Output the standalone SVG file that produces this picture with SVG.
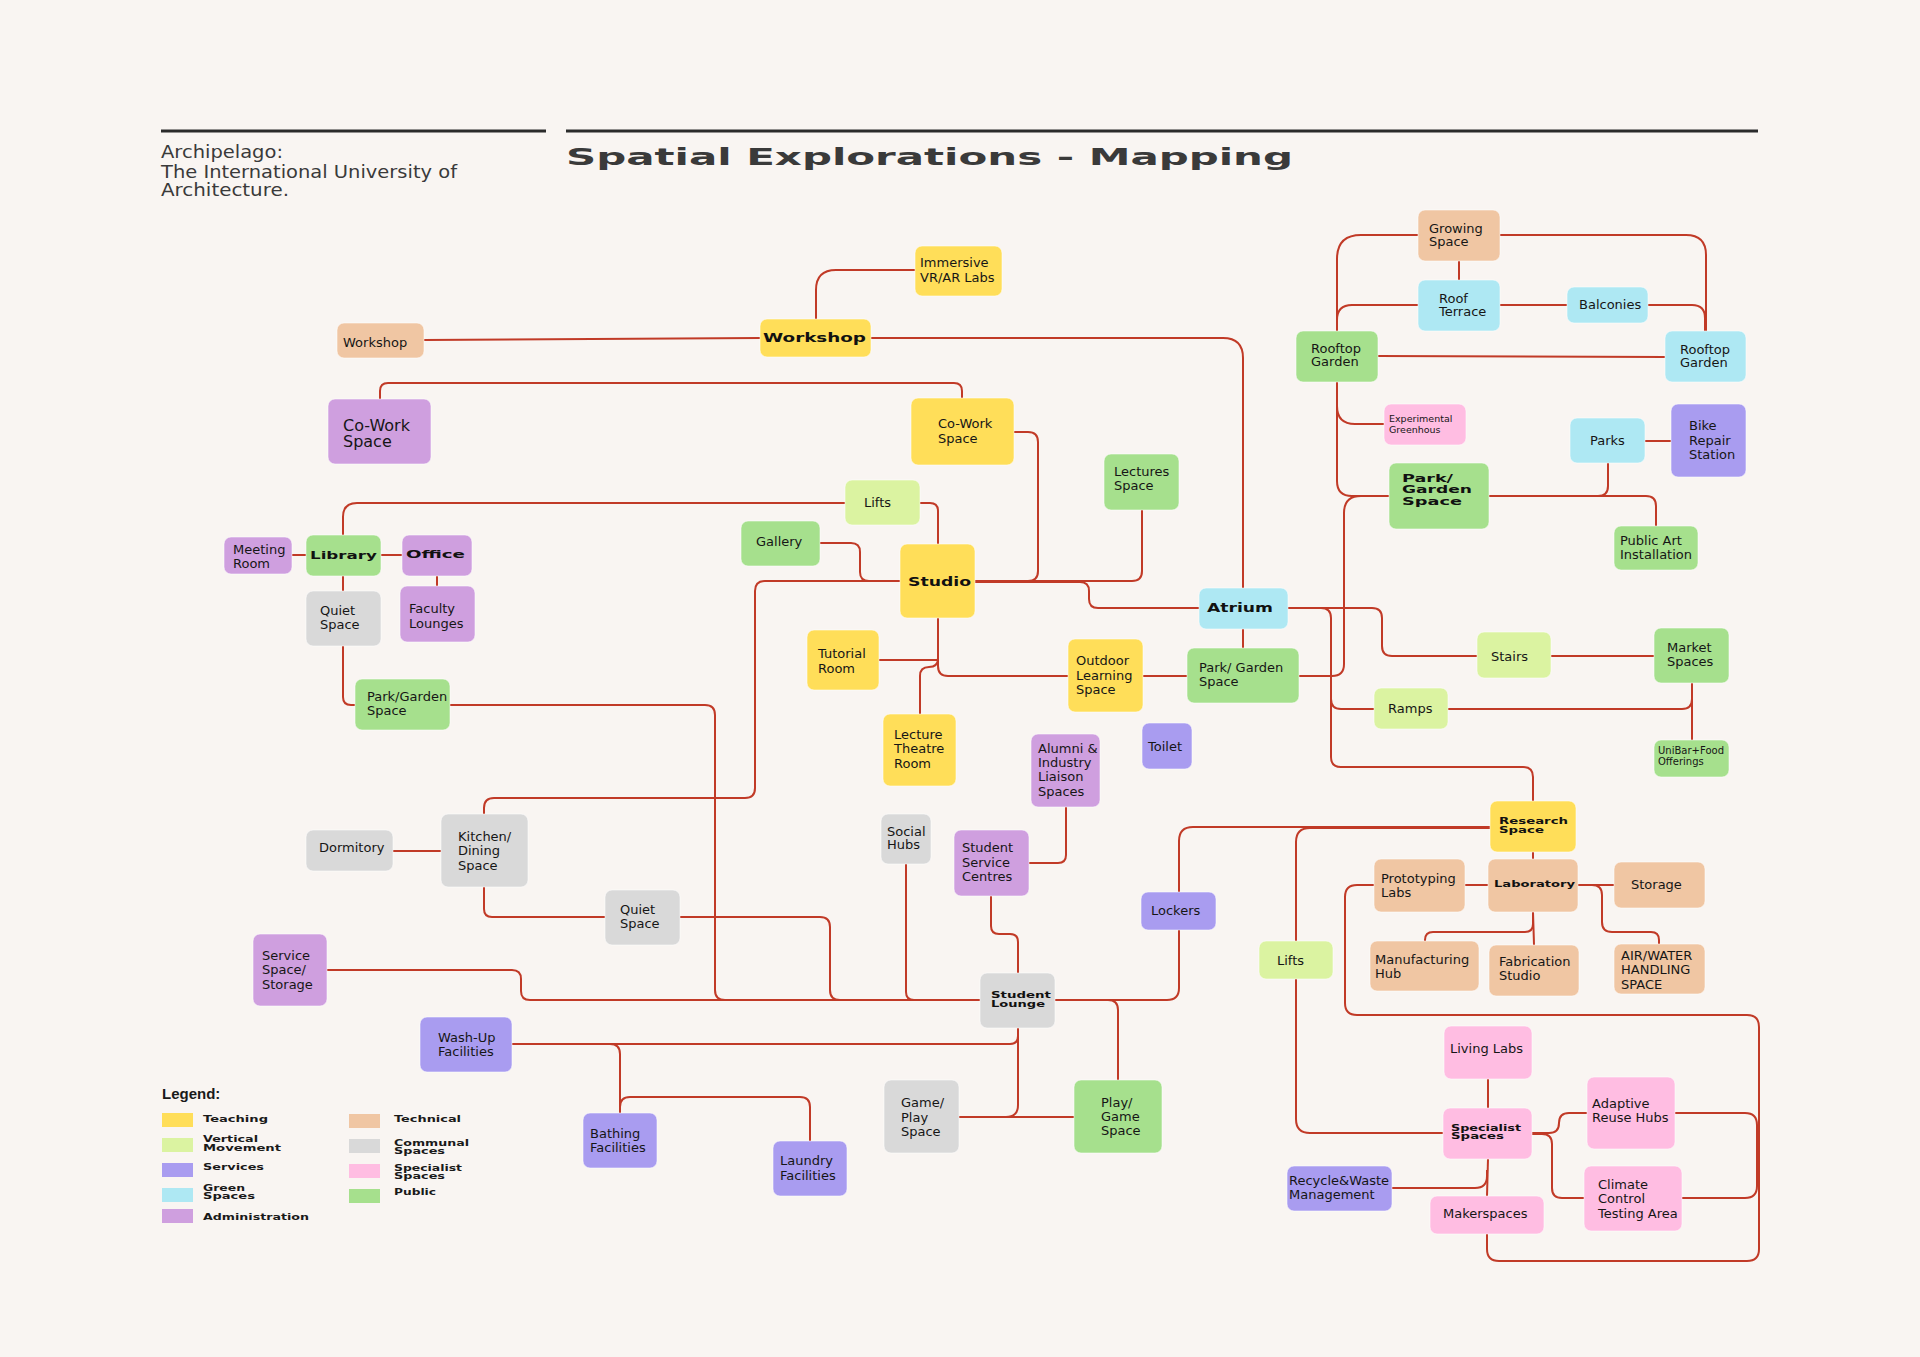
<svg xmlns="http://www.w3.org/2000/svg" width="1920" height="1357" viewBox="0 0 1920 1357">
<style>
.bg{fill:#F9F5F2}
.c path{fill:none;stroke:#C13A27;stroke-width:2}
rect.n{stroke:#ffffff;stroke-opacity:0.55;stroke-width:1}
.t{font-family:"DejaVu Sans",sans-serif;font-size:13px;fill:#161616}
.b{font-family:"DejaVu Sans",sans-serif;font-weight:bold;fill:#111}
.lg{font-family:"DejaVu Sans",sans-serif;font-weight:bold;font-size:16px;fill:#1a1a1a}
.teach{fill:#FFDE59}.vert{fill:#DBF3A1}.serv{fill:#A99CF0}.green{fill:#AEE8F3}.admin{fill:#CF9FDF}
.tech{fill:#F0C6A3}.comm{fill:#D9D9D9}.spec{fill:#FFBDE2}.pub{fill:#A6E08D}
</style>
<rect class="bg" x="0" y="0" width="1920" height="1357"/>

<g id="header">
<rect x="161" y="129.5" width="385" height="3" fill="#2b2b2b"/>
<rect x="566" y="129.5" width="1192" height="3" fill="#2b2b2b"/>
<text x="161" y="158" font-family="DejaVu Sans,sans-serif" font-size="18" fill="#3a3a3a" textLength="122" lengthAdjust="spacingAndGlyphs">Archipelago:</text>
<text x="161" y="178" font-family="DejaVu Sans,sans-serif" font-size="18" fill="#3a3a3a" textLength="296" lengthAdjust="spacingAndGlyphs">The International University of</text>
<text x="161" y="196" font-family="DejaVu Sans,sans-serif" font-size="18" fill="#3a3a3a" textLength="128" lengthAdjust="spacingAndGlyphs">Architecture.</text>
<text x="566" y="165" font-family="DejaVu Sans,sans-serif" font-weight="bold" font-size="23" fill="#3a3a3a" textLength="727" lengthAdjust="spacingAndGlyphs">Spatial Explorations - Mapping</text>
</g>

<g id="connectors" class="c">
<path d="M424,340 L760,338"/>
<path d="M816,319 V290 Q816,270 836,270 H915"/>
<path d="M871,338 H1223 Q1243,338 1243,358 V588"/>
<path d="M380,399 V391 Q380,383 388,383 H954 Q962,383 962,391 V398"/>
<path d="M1014,432 H1028 Q1038,432 1038,442 V571 Q1038,581 1028,581 H975"/>
<path d="M1142,510 V571 Q1142,581 1132,581 H975"/>
<path d="M975,582 H1080 Q1089,582 1089,591 V599 Q1089,608 1098,608 H1199"/>
<path d="M845,503 H357 Q343,503 343,517 V535"/>
<path d="M920,503 H930 Q938,503 938,511 V544"/>
<path d="M820,543 H851 Q860,543 860,552 V572 Q860,581 869,581 H900"/>
<path d="M900,581 H765 Q755,581 755,591 V788 Q755,798 745,798 H494 Q484,798 484,808 V814"/>
<path d="M292,555 H306"/>
<path d="M381,555 H402"/>
<path d="M437,576 V586"/>
<path d="M343,576 V591"/>
<path d="M343,646 V697 Q343,705 351,705 H355"/>
<path d="M450,705 H705 Q715,705 715,715 V990 Q715,1000 725,1000 H980"/>
<path d="M327,970 H512 Q521,970 521,979 V991 Q521,1000 530,1000 H980"/>
<path d="M484,887 V909 Q484,917 492,917 H605"/>
<path d="M680,917 H820 Q830,917 830,927 V990 Q830,1000 840,1000 H980"/>
<path d="M906,864 V992 Q906,1000 914,1000 H980"/>
<path d="M991,896 V926 Q991,934 999,934 H1010 Q1018,934 1018,942 V973"/>
<path d="M1066,807 V855 Q1066,863 1058,863 H1029"/>
<path d="M1055,1000 H1167 Q1179,1000 1179,988 V930"/>
<path d="M1179,892 V841 Q1179,827 1193,827 H1490"/>
<path d="M1296,941 V842 Q1296,828 1310,828 H1490"/>
<path d="M1296,979 V1119 Q1296,1133 1310,1133 H1443"/>
<path d="M1055,1000 H1108 Q1118,1000 1118,1010 V1080"/>
<path d="M1018,1028 V1105 Q1018,1117 1006,1117 H959"/>
<path d="M959,1117 H1074"/>
<path d="M1018,1028 V1036 Q1018,1044 1010,1044 H512"/>
<path d="M512,1044 H610 Q620,1044 620,1054 V1113"/>
<path d="M620,1113 V1107 Q620,1097 630,1097 H800 Q810,1097 810,1107 V1141"/>
<path d="M393,851 H441"/>
<path d="M938,618 V666 Q938,676 948,676 H1068"/>
<path d="M879,660 H938"/>
<path d="M938,658 Q938,667 929,667 Q920,667 920,676 V714"/>
<path d="M1143,676 H1187"/>
<path d="M1243,629 V648"/>
<path d="M1288,608 H1372 Q1382,608 1382,618 V646 Q1382,656 1392,656 H1477"/>
<path d="M1288,608 H1321 Q1331,608 1331,618 V699 Q1331,709 1341,709 H1374"/>
<path d="M1331,699 V757 Q1331,767 1341,767 H1523 Q1533,767 1533,777 V801"/>
<path d="M1389,496 H1361 Q1344,496 1344,513 V664 Q1344,676 1332,676 H1299"/>
<path d="M1551,656 H1654"/>
<path d="M1692,683 V740"/>
<path d="M1448,709 H1682 Q1692,709 1692,699 V683"/>
<path d="M1533,852 V859"/>
<path d="M1465,885 H1488"/>
<path d="M1578,885 H1614"/>
<path d="M1578,885 H1592 Q1602,885 1602,895 V922 Q1602,932 1612,932 H1651 Q1659,932 1659,940 V944"/>
<path d="M1533,912 L1534,945"/>
<path d="M1533,912 V924 Q1533,932 1525,932 H1433 Q1425,932 1425,940 V941"/>
<path d="M1374,885 H1357 Q1345,885 1345,897 V1003 Q1345,1015 1357,1015 H1747 Q1759,1015 1759,1027 V1249 Q1759,1261 1747,1261 H1499 Q1487,1261 1487,1249 V1234"/>
<path d="M1675,1113 H1745 Q1757,1113 1757,1125 V1186 Q1757,1198 1745,1198 H1682"/>
<path d="M1532,1133 H1549 Q1559,1133 1559,1123 Q1559,1113 1569,1113 H1587"/>
<path d="M1532,1134 H1542 Q1552,1134 1552,1144 V1188 Q1552,1198 1562,1198 H1584"/>
<path d="M1488,1079 V1108"/>
<path d="M1488,1159 L1487,1196"/>
<path d="M1392,1188 H1475 Q1487,1188 1487,1176 V1170"/>
<path d="M1418,235 H1361 Q1337,235 1337,259 V331"/>
<path d="M1500,235 H1686 Q1706,235 1706,255 V331"/>
<path d="M1459,261 V280"/>
<path d="M1418,305 H1352 Q1337,305 1337,320"/>
<path d="M1500,305 H1567"/>
<path d="M1648,305 H1692 Q1705,305 1705,318 V331"/>
<path d="M1378,356 L1665,357"/>
<path d="M1337,382 V406 Q1337,424 1355,424 H1384"/>
<path d="M1337,406 V481 Q1337,496 1352,496 H1389"/>
<path d="M1645,441 H1671"/>
<path d="M1608,463 V486 Q1608,496 1598,496 H1489"/>
<path d="M1489,496 H1646 Q1656,496 1656,506 V526"/>
</g>

<g id="n_immersive"><rect class="n teach" x="915" y="246" width="87" height="50" rx="7"/><text class="t"><tspan x="920" y="267">Immersive</tspan><tspan x="920" y="282">VR/AR Labs</tspan></text></g>
<g id="n_workshop"><rect class="n teach" x="760" y="319" width="111" height="38" rx="7"/><text class="b" transform="translate(763,342) scale(0.5)" font-size="23" textLength="206" lengthAdjust="spacingAndGlyphs">Workshop</text></g>
<g id="n_cowork_teach"><rect class="n teach" x="911" y="398" width="103" height="67" rx="7"/><text class="t"><tspan x="938" y="428">Co-Work</tspan><tspan x="938" y="443">Space</tspan></text></g>
<g id="n_studio"><rect class="n teach" x="900" y="544" width="75" height="74" rx="7"/><text class="b" transform="translate(908,586) scale(0.5)" font-size="23" textLength="126" lengthAdjust="spacingAndGlyphs">Studio</text></g>
<g id="n_tutorial"><rect class="n teach" x="807" y="630" width="72" height="60" rx="7"/><text class="t"><tspan x="818" y="658">Tutorial</tspan><tspan x="818" y="673">Room</tspan></text></g>
<g id="n_lecture"><rect class="n teach" x="883" y="714" width="73" height="72" rx="7"/><text class="t"><tspan x="894" y="739">Lecture</tspan><tspan x="894" y="753">Theatre</tspan><tspan x="894" y="768">Room</tspan></text></g>
<g id="n_outdoor"><rect class="n teach" x="1068" y="639" width="75" height="73" rx="7"/><text class="t"><tspan x="1076" y="665">Outdoor</tspan><tspan x="1076" y="680">Learning</tspan><tspan x="1076" y="694">Space</tspan></text></g>
<g id="n_research"><rect class="n teach" x="1490" y="801" width="86" height="51" rx="7"/><text class="b" transform="translate(1499,824) scale(0.5)" font-size="17"><tspan x="0" y="0" textLength="138" lengthAdjust="spacingAndGlyphs">Research</tspan><tspan x="0" y="18" textLength="90" lengthAdjust="spacingAndGlyphs">Space</tspan></text></g>

<g id="n_workshop_tech"><rect class="n tech" x="337" y="323" width="87" height="35" rx="7"/><text class="t" x="343" y="347">Workshop</text></g>
<g id="n_growing"><rect class="n tech" x="1418" y="210" width="82" height="51" rx="7"/><text class="t"><tspan x="1429" y="233">Growing</tspan><tspan x="1429" y="246">Space</tspan></text></g>
<g id="n_proto"><rect class="n tech" x="1374" y="859" width="91" height="53" rx="7"/><text class="t"><tspan x="1381" y="883">Prototyping</tspan><tspan x="1381" y="897">Labs</tspan></text></g>
<g id="n_lab"><rect class="n tech" x="1488" y="859" width="90" height="53" rx="7"/><text class="b" transform="translate(1494,887) scale(0.5)" font-size="16" textLength="162" lengthAdjust="spacingAndGlyphs">Laboratory</text></g>
<g id="n_storage"><rect class="n tech" x="1614" y="862" width="91" height="46" rx="7"/><text class="t" x="1631" y="889">Storage</text></g>
<g id="n_manuf"><rect class="n tech" x="1370" y="941" width="109" height="50" rx="7"/><text class="t"><tspan x="1375" y="964">Manufacturing</tspan><tspan x="1375" y="978">Hub</tspan></text></g>
<g id="n_fab"><rect class="n tech" x="1489" y="945" width="90" height="51" rx="7"/><text class="t"><tspan x="1499" y="966">Fabrication</tspan><tspan x="1499" y="980">Studio</tspan></text></g>
<g id="n_air"><rect class="n tech" x="1614" y="944" width="91" height="50" rx="7"/><text class="t"><tspan x="1621" y="960">AIR/WATER</tspan><tspan x="1621" y="974">HANDLING</tspan><tspan x="1621" y="989">SPACE</tspan></text></g>

<g id="n_lifts_top"><rect class="n vert" x="845" y="480" width="75" height="45" rx="7"/><text class="t" x="864" y="507">Lifts</text></g>
<g id="n_stairs"><rect class="n vert" x="1477" y="632" width="74" height="46" rx="7"/><text class="t" x="1491" y="661">Stairs</text></g>
<g id="n_ramps"><rect class="n vert" x="1374" y="688" width="74" height="41" rx="7"/><text class="t" x="1388" y="713">Ramps</text></g>
<g id="n_lifts_low"><rect class="n vert" x="1259" y="941" width="74" height="38" rx="7"/><text class="t" x="1277" y="965">Lifts</text></g>

<g id="n_bike"><rect class="n serv" x="1671" y="404" width="75" height="73" rx="7"/><text class="t"><tspan x="1689" y="430">Bike</tspan><tspan x="1689" y="445">Repair</tspan><tspan x="1689" y="459">Station</tspan></text></g>
<g id="n_toilet"><rect class="n serv" x="1142" y="723" width="50" height="46" rx="7"/><text class="t" x="1148" y="751">Toilet</text></g>
<g id="n_washup"><rect class="n serv" x="420" y="1017" width="92" height="55" rx="7"/><text class="t"><tspan x="438" y="1042">Wash-Up</tspan><tspan x="438" y="1056">Facilities</tspan></text></g>
<g id="n_bathing"><rect class="n serv" x="583" y="1113" width="74" height="55" rx="7"/><text class="t"><tspan x="590" y="1138">Bathing</tspan><tspan x="590" y="1152">Facilities</tspan></text></g>
<g id="n_laundry"><rect class="n serv" x="773" y="1141" width="74" height="55" rx="7"/><text class="t"><tspan x="780" y="1165">Laundry</tspan><tspan x="780" y="1180">Facilities</tspan></text></g>
<g id="n_lockers"><rect class="n serv" x="1141" y="892" width="75" height="38" rx="7"/><text class="t" x="1151" y="915">Lockers</text></g>
<g id="n_recycle"><rect class="n serv" x="1287" y="1166" width="105" height="45" rx="7"/><text class="t"><tspan x="1289" y="1185">Recycle&amp;Waste</tspan><tspan x="1289" y="1199">Management</tspan></text></g>

<g id="n_roofterrace"><rect class="n green" x="1418" y="280" width="82" height="51" rx="7"/><text class="t"><tspan x="1439" y="303">Roof</tspan><tspan x="1439" y="316">Terrace</tspan></text></g>
<g id="n_balconies"><rect class="n green" x="1567" y="287" width="81" height="36" rx="7"/><text class="t" x="1579" y="309">Balconies</text></g>
<g id="n_rooftop_green"><rect class="n green" x="1665" y="331" width="81" height="51" rx="7"/><text class="t"><tspan x="1680" y="354">Rooftop</tspan><tspan x="1680" y="367">Garden</tspan></text></g>
<g id="n_parks"><rect class="n green" x="1570" y="418" width="75" height="45" rx="7"/><text class="t" x="1590" y="445">Parks</text></g>
<g id="n_atrium"><rect class="n green" x="1199" y="588" width="89" height="41" rx="7"/><text class="b" transform="translate(1207,612) scale(0.5)" font-size="24" textLength="132" lengthAdjust="spacingAndGlyphs">Atrium</text></g>

<g id="n_cowork_admin"><rect class="n admin" x="328" y="399" width="103" height="65" rx="7"/><text class="t" style="font-size:16px"><tspan x="343" y="431">Co-Work</tspan><tspan x="343" y="447">Space</tspan></text></g>
<g id="n_meeting"><rect class="n admin" x="224" y="537" width="68" height="37" rx="7"/><text class="t"><tspan x="233" y="554">Meeting</tspan><tspan x="233" y="568">Room</tspan></text></g>
<g id="n_office"><rect class="n admin" x="402" y="535" width="70" height="41" rx="7"/><text class="b" transform="translate(406,558) scale(0.5)" font-size="22" textLength="118" lengthAdjust="spacingAndGlyphs">Office</text></g>
<g id="n_faculty"><rect class="n admin" x="400" y="586" width="75" height="56" rx="7"/><text class="t"><tspan x="409" y="613">Faculty</tspan><tspan x="409" y="628">Lounges</tspan></text></g>
<g id="n_service"><rect class="n admin" x="253" y="934" width="74" height="72" rx="7"/><text class="t"><tspan x="262" y="960">Service</tspan><tspan x="262" y="974">Space/</tspan><tspan x="262" y="989">Storage</tspan></text></g>
<g id="n_alumni"><rect class="n admin" x="1031" y="734" width="69" height="73" rx="7"/><text class="t"><tspan x="1038" y="753">Alumni &amp;</tspan><tspan x="1038" y="767">Industry</tspan><tspan x="1038" y="781">Liaison</tspan><tspan x="1038" y="796">Spaces</tspan></text></g>
<g id="n_ssc"><rect class="n admin" x="954" y="830" width="75" height="66" rx="7"/><text class="t"><tspan x="962" y="852">Student</tspan><tspan x="962" y="867">Service</tspan><tspan x="962" y="881">Centres</tspan></text></g>

<g id="n_quiet1"><rect class="n comm" x="306" y="591" width="75" height="55" rx="7"/><text class="t"><tspan x="320" y="615">Quiet</tspan><tspan x="320" y="629">Space</tspan></text></g>
<g id="n_dorm"><rect class="n comm" x="306" y="830" width="87" height="41" rx="7"/><text class="t" x="319" y="852">Dormitory</text></g>
<g id="n_kitchen"><rect class="n comm" x="441" y="814" width="87" height="73" rx="7"/><text class="t"><tspan x="458" y="841">Kitchen/</tspan><tspan x="458" y="855">Dining</tspan><tspan x="458" y="870">Space</tspan></text></g>
<g id="n_quiet2"><rect class="n comm" x="605" y="890" width="75" height="55" rx="7"/><text class="t"><tspan x="620" y="914">Quiet</tspan><tspan x="620" y="928">Space</tspan></text></g>
<g id="n_social"><rect class="n comm" x="881" y="814" width="50" height="50" rx="7"/><text class="t"><tspan x="887" y="836">Social</tspan><tspan x="887" y="849">Hubs</tspan></text></g>
<g id="n_lounge"><rect class="n comm" x="980" y="973" width="75" height="55" rx="7"/><text class="b" transform="translate(991,998) scale(0.5)" font-size="17"><tspan x="0" y="0" textLength="120" lengthAdjust="spacingAndGlyphs">Student</tspan><tspan x="0" y="17" textLength="108" lengthAdjust="spacingAndGlyphs">Lounge</tspan></text></g>
<g id="n_gameplay"><rect class="n comm" x="884" y="1080" width="75" height="73" rx="7"/><text class="t"><tspan x="901" y="1107">Game/</tspan><tspan x="901" y="1122">Play</tspan><tspan x="901" y="1136">Space</tspan></text></g>

<g id="n_experimental"><rect class="n spec" x="1384" y="404" width="82" height="41" rx="7"/><text class="t" style="font-size:9.5px"><tspan x="1389" y="422">Experimental</tspan><tspan x="1389" y="433">Greenhous</tspan></text></g>
<g id="n_living"><rect class="n spec" x="1444" y="1026" width="88" height="53" rx="7"/><text class="t" x="1450" y="1053">Living Labs</text></g>
<g id="n_specialist"><rect class="n spec" x="1443" y="1108" width="89" height="51" rx="7"/><text class="b" transform="translate(1451,1131) scale(0.5)" font-size="16"><tspan x="0" y="0" textLength="140" lengthAdjust="spacingAndGlyphs">Specialist</tspan><tspan x="0" y="16" textLength="106" lengthAdjust="spacingAndGlyphs">Spaces</tspan></text></g>
<g id="n_adaptive"><rect class="n spec" x="1587" y="1077" width="88" height="72" rx="7"/><text class="t"><tspan x="1592" y="1108">Adaptive</tspan><tspan x="1592" y="1122">Reuse Hubs</tspan></text></g>
<g id="n_climate"><rect class="n spec" x="1584" y="1166" width="98" height="65" rx="7"/><text class="t"><tspan x="1598" y="1189">Climate</tspan><tspan x="1598" y="1203">Control</tspan><tspan x="1598" y="1218">Testing Area</tspan></text></g>
<g id="n_maker"><rect class="n spec" x="1430" y="1196" width="114" height="38" rx="7"/><text class="t" x="1443" y="1218">Makerspaces</text></g>

<g id="n_rooftop_public"><rect class="n pub" x="1296" y="331" width="82" height="51" rx="7"/><text class="t"><tspan x="1311" y="353">Rooftop</tspan><tspan x="1311" y="366">Garden</tspan></text></g>
<g id="n_parkgarden_bold"><rect class="n pub" x="1389" y="463" width="100" height="66" rx="7"/><text class="b" transform="translate(1402,482) scale(0.5)" font-size="20"><tspan x="0" y="0" textLength="102" lengthAdjust="spacingAndGlyphs">Park/</tspan><tspan x="0" y="22" textLength="140" lengthAdjust="spacingAndGlyphs">Garden</tspan><tspan x="0" y="46" textLength="120" lengthAdjust="spacingAndGlyphs">Space</tspan></text></g>
<g id="n_publicart"><rect class="n pub" x="1614" y="526" width="84" height="44" rx="7"/><text class="t"><tspan x="1620" y="545">Public Art</tspan><tspan x="1620" y="559">Installation</tspan></text></g>
<g id="n_lectures"><rect class="n pub" x="1104" y="454" width="75" height="56" rx="7"/><text class="t"><tspan x="1114" y="476">Lectures</tspan><tspan x="1114" y="490">Space</tspan></text></g>
<g id="n_gallery"><rect class="n pub" x="741" y="521" width="79" height="45" rx="7"/><text class="t" x="756" y="546">Gallery</text></g>
<g id="n_library"><rect class="n pub" x="306" y="535" width="75" height="41" rx="7"/><text class="b" transform="translate(310,559) scale(0.5)" font-size="22" textLength="134" lengthAdjust="spacingAndGlyphs">Library</text></g>
<g id="n_parkgarden_left"><rect class="n pub" x="355" y="679" width="95" height="51" rx="7"/><text class="t"><tspan x="367" y="701">Park/Garden</tspan><tspan x="367" y="715">Space</tspan></text></g>
<g id="n_parkgarden_mid"><rect class="n pub" x="1187" y="648" width="112" height="55" rx="7"/><text class="t"><tspan x="1199" y="672">Park/ Garden</tspan><tspan x="1199" y="686">Space</tspan></text></g>
<g id="n_market"><rect class="n pub" x="1654" y="628" width="75" height="55" rx="7"/><text class="t"><tspan x="1667" y="652">Market</tspan><tspan x="1667" y="666">Spaces</tspan></text></g>
<g id="n_unibar"><rect class="n pub" x="1654" y="740" width="75" height="37" rx="7"/><text class="t" style="font-size:10px"><tspan x="1658" y="754" textLength="66" lengthAdjust="spacingAndGlyphs">UniBar+Food</tspan><tspan x="1658" y="765">Offerings</tspan></text></g>
<g id="n_playgame"><rect class="n pub" x="1074" y="1080" width="88" height="73" rx="7"/><text class="t"><tspan x="1101" y="1107">Play/</tspan><tspan x="1101" y="1121">Game</tspan><tspan x="1101" y="1135">Space</tspan></text></g>

<g id="legend">
<text x="162" y="1099" font-family="Liberation Sans,Arial,sans-serif" font-weight="bold" font-size="15" fill="#1a1a1a">Legend:</text>
<rect class="teach" x="162" y="1113" width="31" height="14"/>
<rect class="vert" x="162" y="1138" width="31" height="14"/>
<rect class="serv" x="162" y="1163" width="31" height="14"/>
<rect class="green" x="162" y="1188" width="31" height="14"/>
<rect class="admin" x="162" y="1209" width="31" height="14"/>
<rect class="tech" x="349" y="1114" width="31" height="14"/>
<rect class="comm" x="349" y="1139" width="31" height="14"/>
<rect class="spec" x="349" y="1164" width="31" height="14"/>
<rect class="pub" x="349" y="1189" width="31" height="14"/>
<text class="lg" transform="translate(203,1122) scale(0.5)" textLength="130" lengthAdjust="spacingAndGlyphs">Teaching</text>
<text class="lg" transform="translate(203,1142) scale(0.5)" textLength="110" lengthAdjust="spacingAndGlyphs">Vertical</text>
<text class="lg" transform="translate(203,1151) scale(0.5)" textLength="156" lengthAdjust="spacingAndGlyphs">Movement</text>
<text class="lg" transform="translate(203,1170) scale(0.5)" textLength="122" lengthAdjust="spacingAndGlyphs">Services</text>
<text class="lg" transform="translate(203,1191) scale(0.5)" textLength="84" lengthAdjust="spacingAndGlyphs">Green</text>
<text class="lg" transform="translate(203,1199) scale(0.5)" textLength="104" lengthAdjust="spacingAndGlyphs">Spaces</text>
<text class="lg" transform="translate(203,1220) scale(0.5)" textLength="212" lengthAdjust="spacingAndGlyphs">Administration</text>
<text class="lg" transform="translate(394,1122) scale(0.5)" textLength="134" lengthAdjust="spacingAndGlyphs">Technical</text>
<text class="lg" transform="translate(394,1146) scale(0.5)" textLength="150" lengthAdjust="spacingAndGlyphs">Communal</text>
<text class="lg" transform="translate(394,1154) scale(0.5)" textLength="102" lengthAdjust="spacingAndGlyphs">Spaces</text>
<text class="lg" transform="translate(394,1171) scale(0.5)" textLength="136" lengthAdjust="spacingAndGlyphs">Specialist</text>
<text class="lg" transform="translate(394,1179) scale(0.5)" textLength="102" lengthAdjust="spacingAndGlyphs">Spaces</text>
<text class="lg" transform="translate(394,1195) scale(0.5)" textLength="84" lengthAdjust="spacingAndGlyphs">Public</text>
</g>
</svg>
